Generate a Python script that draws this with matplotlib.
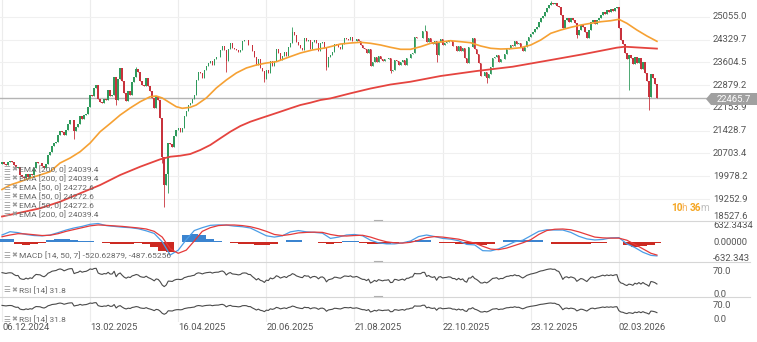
import numpy as np
import pandas as pd
import matplotlib
matplotlib.use("Agg")
import matplotlib.pyplot as plt
from matplotlib.transforms import blended_transform_factory
from matplotlib.patches import Polygon

plt.rcParams['font.family'] = ['Roboto', 'DejaVu Sans']

# trading calendar (Xetra holidays removed)
holidays = ['2024-12-24', '2024-12-25', '2024-12-26', '2024-12-31', '2025-01-01',
            '2025-04-18', '2025-04-21', '2025-05-01',
            '2025-12-24', '2025-12-25', '2025-12-26', '2025-12-31', '2026-01-01']
dates = pd.bdate_range('2024-12-06', '2026-03-27')
dates = dates[~dates.isin(pd.to_datetime(holidays))]

# daily closes, month by month
dec24 = [20420, 20380, 20350, 20430, 20460, 20440, 20330, 20250, 20270, 20020, 19950, 19930, 20040, 19960]
jan25 = [20060, 20010, 20230, 20420, 20400, 20390, 20300, 20250, 20380, 20640, 20760, 20950, 21020, 21080,
         21290, 21420, 21380, 21300, 21460, 21650, 21760, 21780]
feb25 = [21430, 21560, 21640, 21900, 21800, 21920, 21970, 22180, 22560, 22520, 22800, 22870, 22450, 22350,
         22300, 22450, 22420, 22720, 22540, 22560]
mar25 = [23150, 22420, 23080, 23420, 23010, 22620, 22380, 22680, 22570, 22990, 23150, 23390, 23290, 23000,
         22890, 22850, 23110, 22840, 22680, 22460, 22160]
apr25 = [22520, 22400, 21830, 20590, 19700, 20050, 21050, 21000, 20900, 21250, 21450, 21500, 21400, 21500,
         21900, 22050, 22250, 22300, 22450, 22550]
may25 = [23050, 23300, 23250, 23120, 23350, 23500, 23580, 23650, 23530, 23700, 23770, 23780, 23990, 24120,
         23990, 23650, 24030, 24230, 24050, 24020, 23990]
jun25 = [23930, 24000, 24270, 24320, 24300, 24170, 24160, 23950, 23770, 23520, 23700, 23430, 23320, 23060,
         23350, 23270, 23640, 23500, 23650, 24030, 23910]
jul25 = [23680, 23800, 23940, 23790, 24080, 24210, 24560, 24460, 24260, 24160, 24060, 24010, 24370, 24290,
         24310, 24040, 24240, 24300, 24220, 23970, 24220, 24260, 24070]
aug25 = [23450, 23760, 23850, 23930, 24190, 24160, 24080, 24030, 24190, 24380, 24360, 24320, 24420, 24280,
         24290, 24360, 24270, 24150, 24050, 24040, 23900]
sep25 = [24040, 23490, 23600, 23770, 23600, 23810, 23720, 23630, 23700, 23700, 23750, 23330, 23360, 23680,
         23640, 23530, 23610, 23670, 23530, 23740, 23750, 23880]
oct25 = [23910, 24420, 24380, 24380, 24390, 24600, 24610, 24240, 24390, 24240, 24180, 24270, 23830, 24260,
         24330, 24150, 24210, 24240, 24310, 24280, 24120, 24120, 23960]
nov25 = [24130, 23950, 24050, 23730, 23570, 24090, 24090, 24380, 24040, 23880, 23590, 23180, 23160, 23280,
         23090, 23240, 23470, 23730, 23770, 23840]
dec25 = [23600, 23720, 23700, 23880, 24030, 24050, 24160, 24130, 24290, 24190, 24220, 24080, 23960, 24100,
         24290, 24400, 24500, 24560, 24650]
jan26 = [24730, 24890, 25020, 25080, 25200, 25330, 25430, 25490, 25460, 25490, 25400, 25360, 25120, 24700,
         24950, 25010, 24890, 25010, 24950, 24860, 24480]
feb26 = [24630, 24790, 24730, 24570, 24380, 24630, 24890, 24950, 24820, 24950, 25010, 25110, 25210, 25140,
         25270, 25210, 25300, 25240, 25330, 25360]
mar26 = [24680, 24300, 24200, 23900, 23700, 23850, 23750, 23550, 23780, 23580, 23750, 23400, 23600, 23250,
         23000, 22500, 23235, 23120, 22900, 22465.7]
first_open = 20380

# long shadows
wick_lows = {'2025-02-03': 21150, '2025-03-04': 22250, '2025-04-04': 20400, '2025-04-07': 19000,
             '2025-04-09': 19450, '2025-05-23': 23300, '2025-06-19': 22990, '2025-08-01': 23350,
             '2025-09-16': 23250, '2025-10-17': 23600, '2025-11-21': 22960, '2026-01-30': 24380,
             '2026-03-09': 22720, '2026-03-23': 22090}
wick_highs = {'2025-03-18': 23470, '2025-07-09': 24720, '2025-10-09': 24800, '2026-01-13': 25560}

# moving averages (session index, value)
ema50_idx = [0, 4, 9, 14, 19, 24, 29, 34, 39, 44, 49, 54, 59, 64, 69, 74, 77, 80, 84, 87, 90, 94, 97, 102,
             107, 112, 117, 122, 127, 132, 137, 142, 149, 155, 162, 169, 174, 179, 184, 189, 194, 199, 204,
             209, 214, 219, 224, 229, 234, 239, 244, 249, 254, 259, 264, 269, 274, 279, 284, 289, 294, 299,
             304, 308, 312, 317, 322, 327]
ema50_vals = [19555, 19698, 19804, 19921, 20017, 20122, 20399, 20558, 20758, 21035, 21395, 21656, 21926,
              22149, 22350, 22509, 22531, 22468, 22309, 22191, 22140, 22172, 22245, 22468, 22786, 23041,
              23264, 23423, 23518, 23582, 23623, 23741, 23900, 23996, 24069, 24186, 24218, 24241, 24209,
              24155, 24081, 24018, 24018, 24101, 24209, 24250, 24292, 24260, 24228, 24123, 24050, 24027,
              24037, 24069, 24155, 24314, 24527, 24632, 24718, 24791, 24845, 24896, 24928, 24973, 24845,
              24632, 24441, 24272.6]
ema200_idx = [0, 9, 19, 29, 39, 49, 59, 69, 79, 84, 89, 94, 99, 104, 109, 114, 119, 124, 129, 134, 139,
              144, 149, 154, 159, 164, 174, 184, 194, 204, 219, 237, 255, 274, 290, 307, 311, 327]
ema200_vals = [18696, 18817, 18957, 19167, 19434, 19698, 20017, 20281, 20517, 20599, 20631, 20685, 20813,
               20972, 21185, 21395, 21576, 21713, 21821, 21926, 22032, 22140, 22245, 22318, 22404, 22455,
               22617, 22770, 22897, 22986, 23168, 23327, 23464, 23677, 23859, 24070, 24100, 24039.4]

# MACD [14, 50, 7] read every 4th session
macd_idx = list(range(0, 325, 4)) + [327]
macd_line = [280, 406, 370, 300, 260, 245, 280, 370, 470, 550, 610, 690, 720, 640, 610, 580, 560, 520, 440, 340,
             20, -486, -300, 100, 450, 560, 650, 666, 660, 620, 597, 548, 400, 250, 200, 250, 400, 450, 400, 380,
             350, 150, 200, 280, 300, 250, 80, -20, -60, -60, -20, 50, 220, 280, 220, 150, 120, 60, -80, -100,
             -320, -330, -250, -120, 20, 80, 250, 420, 480, 470, 470, 380, 230, 130, 90, 110, 170, 180, -60,
             -200, -380, -500, -520.62879]
macd_signal = [214, 280, 330, 320, 290, 260, 270, 330, 420, 490, 560, 630, 665, 650, 630, 610, 580, 550, 510, 420,
               200, -250, -421, -300, 50, 420, 560, 640, 663, 663, 640, 597, 520, 420, 300, 260, 300, 360, 380,
               390, 380, 300, 250, 240, 260, 270, 200, 100, 20, -20, -30, 0, 80, 180, 220, 200, 160, 120, 40,
               -30, -150, -260, -280, -220, -120, -20, 100, 300, 450, 500, 510, 480, 400, 300, 200, 170, 160, 160,
               80, -80, -250, -420, -487.65256]
macd_hist = [130, 130, -60, -90, -80, -40, 100, 120, 120, 80, 60, 50, 30, -40, -60, -60, -60, -40, -60, -190,
             -330, -385, 0, 280, 300, 280, 130, 60, 0, -40, -60, -60, -100, -120, -60, 0, 80, 80, 30, 0,
             -20, -80, -40, 40, 40, -20, -80, -80, -50, -20, 10, 40, 100, 80, 0, -40, -40, -60, -80, -50,
             -120, -60, 20, 80, 100, 80, 100, 80, 30, -50, -50, -60, -60, -60, -40, -20, 10, 0, -120,
             -190, -150, -120, -33]
rsi_gain_start, rsi_loss_start = 100.0, 47.0

price_ticks = [25055.0, 24329.7, 23604.5, 22879.2, 22153.9, 21428.7, 20703.4, 19978.2, 19252.9]
last_price = 22465.7

# ---- derived series ----
closes = np.array(dec24 + jan25 + feb25 + mar25 + apr25 + may25 + jun25 + jul25 + aug25 + sep25
                  + oct25 + nov25 + dec25 + jan26 + feb26 + mar26, dtype=float)
opens = np.concatenate([[first_open], closes[:-1]])
highs = np.maximum(opens, closes)
lows = np.minimum(opens, closes)
for d, v in wick_lows.items():
    lows[dates.get_loc(pd.Timestamp(d))] = v
for d, v in wick_highs.items():
    highs[dates.get_loc(pd.Timestamp(d))] = v
idx = np.arange(len(closes))


def rsi(values, n, g0, l0):
    out, g, l = [], g0, l0
    prev = values[0]
    for v in values:
        d = v - prev
        g = (g * (n - 1) + max(d, 0)) / n
        l = (l * (n - 1) + max(-d, 0)) / n
        out.append(100 - 100 / (1 + g / l))
        prev = v
    return np.array(out)


rsi14 = rsi(closes, 14, rsi_gain_start, rsi_loss_start)

# ---- layout ----
W, H = 757, 342
fig = plt.figure(figsize=(W / 100, H / 100), dpi=100)
fig.patch.set_facecolor('white')


def panel(top, bottom):
    a = fig.add_axes([0, 1 - bottom / H, 710 / W, (bottom - top) / H])
    a.set_axis_off()
    a.set_xlim(-1.0, 353.5)
    return a


ax = panel(0, 221)
ax_macd = panel(221, 262)
ax_rsi = panel(262, 297)
ax_rsi2 = panel(297, 322)

ax.set_ylim(18553, 25587)
ax_macd.set_ylim(-754, 816)
ax_rsi.set_ylim(-9.5, 101.8)
ax_rsi2.set_ylim(-15, 110)

grid_c = '#ececec'
label_c = '#555555'
tick_idx = list(range(0, len(dates), 44))
for a in (ax, ax_macd, ax_rsi, ax_rsi2):
    for t in tick_idx:
        a.axvline(t, color=grid_c, lw=0.8, zorder=0)

for p in price_ticks:
    ax.axhline(p, color='#f0f0f0', lw=0.8, zorder=0)


def right_label(a, y, text, va='center'):
    tr = blended_transform_factory(a.transAxes, a.transData)
    a.text(713 / 710, y, text, transform=tr, fontsize=6.8, color=label_c,
           ha='left', va=va, clip_on=False)


for p in price_ticks:
    right_label(ax, p, f'{p:.1f}')
ax.text(713 / 710, 0.0, '18527.6', transform=ax.transAxes, fontsize=6.8,
        color=label_c, ha='left', va='bottom', clip_on=False)

# candles
green, red = '#2f9a5c', '#c8323c'
cols = np.where(closes >= opens, green, red)
body = np.maximum(np.abs(closes - opens), 10)
ax.vlines(idx, lows, highs, colors=cols, lw=0.6, zorder=2)
ax.bar(idx, body, bottom=np.minimum(opens, closes), width=0.75, color=cols, lw=0, zorder=3)

ax.plot(ema200_idx, ema200_vals, color='#e5443f', lw=1.3, zorder=4)
ax.plot(ema50_idx, ema50_vals, color='#f6a133', lw=1.2, zorder=4)

ax.axhline(last_price, color='#b4b4b4', lw=1.0, zorder=1)

# last price tag
tag = Polygon([(706 / W, 1 - 99 / H), (711 / W, 1 - 93 / H), (757 / W, 1 - 93 / H),
               (757 / W, 1 - 105 / H), (711 / W, 1 - 105 / H)],
              closed=True, transform=fig.transFigure, color='#a0a0a0', lw=0)
fig.patches.append(tag)
fig.text(734 / W, 1 - 99 / H, f'{last_price:.1f}', color='white', fontsize=6.8,
         ha='center', va='center')

# countdown
for x, s, c, w in [(671, '10', '#f5a623', 'bold'), (681.5, 'h', '#f5b466', 'normal'),
                   (690, '36', '#f5a623', 'bold'), (700.5, 'm', '#c0c0c0', 'normal')]:
    fig.text(x / W, 1 - 208 / H, s, color=c, fontsize=7.2, fontweight=w, va='center', ha='left')

# indicator legends
e200 = f'EMA [200, 0] {ema200_vals[-1]:.1f}'
e50 = f'EMA [50, 0] {ema50_vals[-1]:.1f}'
legend_rows = [e200, e200, e50, e50, e50, e200]


def legend(y, text):
    fig.text(3 / W, 1 - y / H, '\u2630', color='#9a9a9a', fontsize=5.5, va='center', ha='left',
             family='DejaVu Sans')
    fig.text(11 / W, 1 - y / H, '\u2716', color='#9a9a9a', fontsize=5, va='center', ha='left',
             family='DejaVu Sans')
    fig.text(19 / W, 1 - y / H, text, color='#666666', fontsize=6, va='center', ha='left')


for k, t in enumerate(legend_rows):
    legend(169 + 9 * k, t)

# MACD
blue_h, red_h = '#3b84d0', '#cc2a22'
hist_cols = [blue_h if v >= 0 else red_h for v in macd_hist]
ax_macd.bar(macd_idx, macd_hist, width=4.0, color=hist_cols, lw=0, zorder=2)
ax_macd.plot(macd_idx, macd_line, color='#4b9de6', lw=0.9, zorder=3)
ax_macd.plot(macd_idx, macd_signal, color='#e53a3a', lw=0.9, zorder=3)
right_label(ax_macd, 632.3434, '632.3434')
right_label(ax_macd, 0, '0.00000')
right_label(ax_macd, -632.343, '-632.343')
legend(255, f'MACD [14, 50, 7] {macd_line[-1]}, {macd_signal[-1]}')

# RSI (two panes)
for a, ly in ((ax_rsi, 290), (ax_rsi2, 319)):
    a.plot(idx, rsi14, color='#4a4a4a', lw=0.8, zorder=3)
    right_label(a, 70, '70.0')
    right_label(a, 0, '0.0')
    legend(ly, f'RSI [14] {rsi14[-1]:.1f}')

# pane separators
for y in (221, 262, 297):
    fig.add_artist(plt.Line2D([0, 750 / W], [1 - y / H] * 2, color='#d6d6d6', lw=0.8))
    fig.add_artist(plt.Line2D([374 / W, 382 / W], [1 - (y - 1) / H] * 2, color='#b0b0b0', lw=0.8))

# date axis
tr = blended_transform_factory(ax_rsi2.transData, ax_rsi2.transAxes)
for t in tick_idx:
    ax_rsi2.text(t, -0.24, dates[t].strftime('%d.%m.%Y'), transform=tr, fontsize=6.8,
                 color=label_c, ha='left', va='center', clip_on=False)

fig.savefig('out.png', dpi=100)
